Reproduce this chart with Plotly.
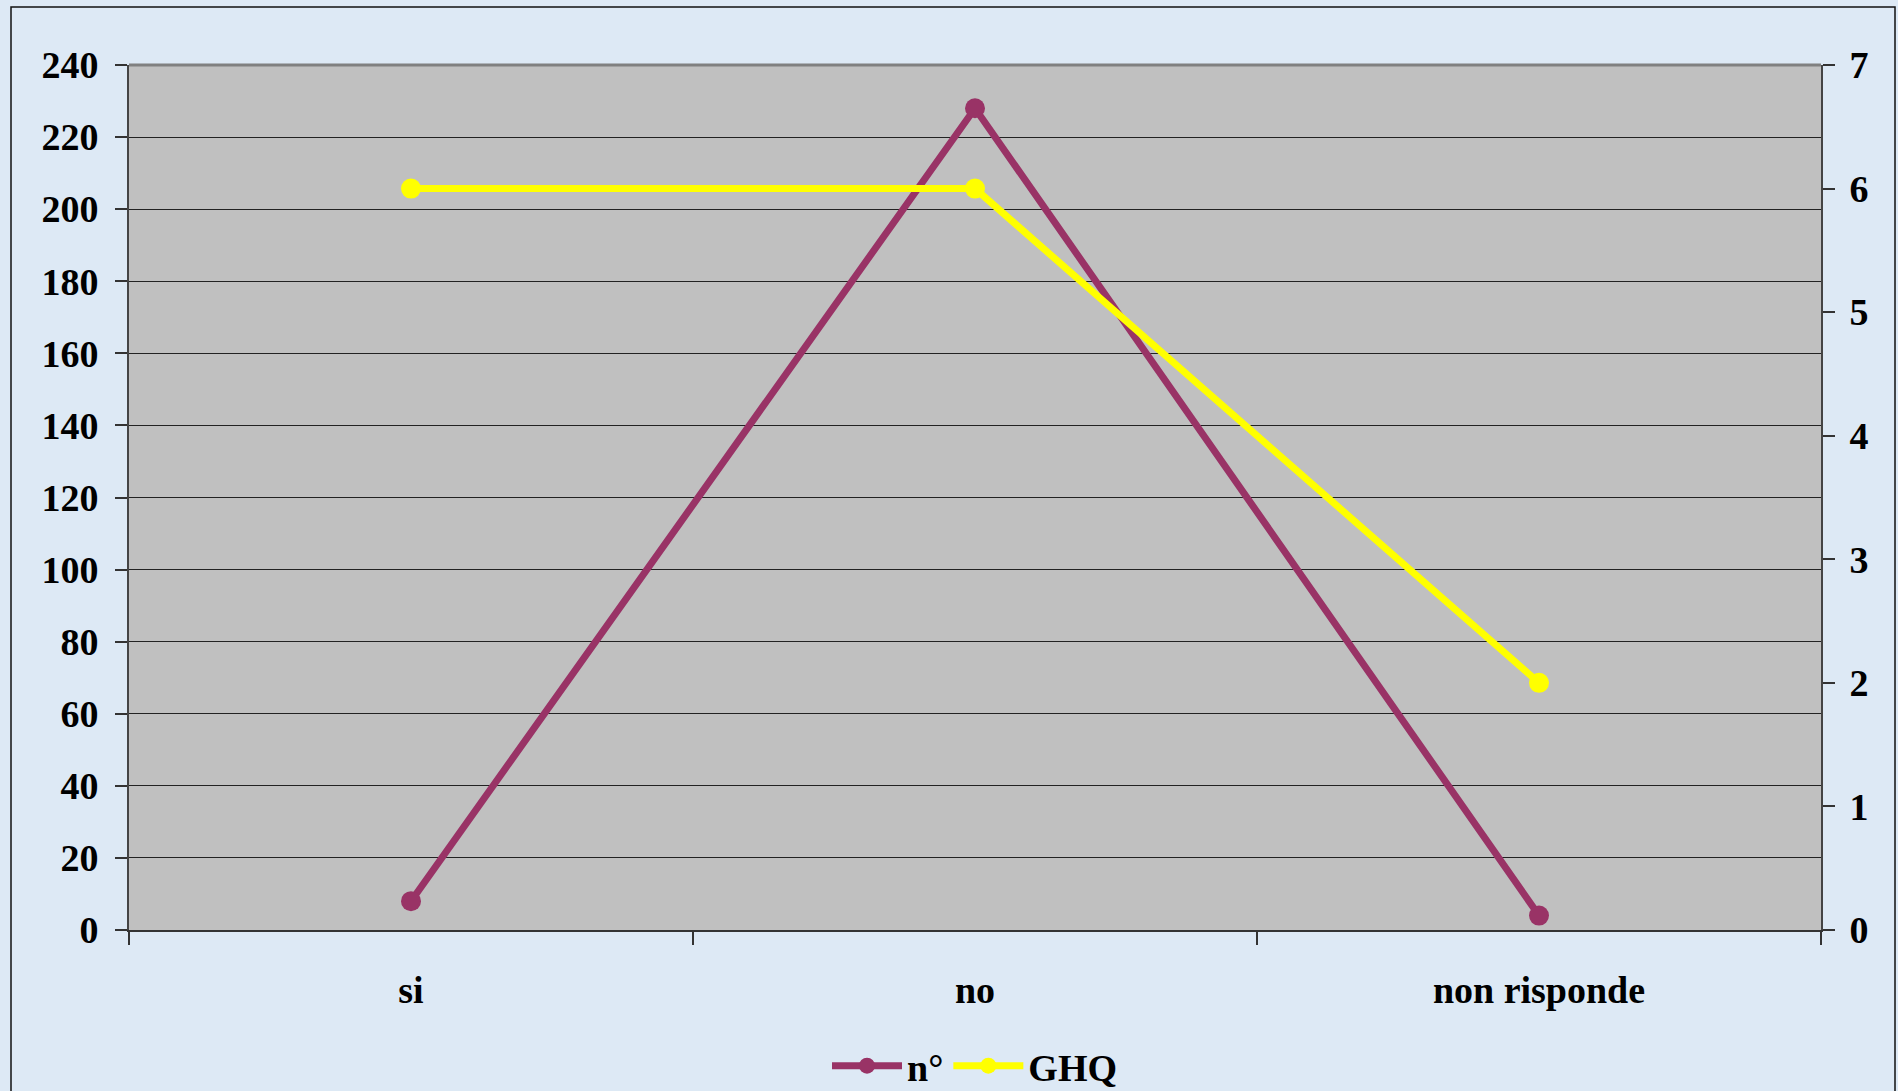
import plotly.graph_objects as go

categories = ["si", "no", "non risponde"]
n_values = [8, 228, 4]
ghq_values = [6, 6, 2]
left_ticks = list(range(0, 241, 20))
right_ticks = list(range(0, 8))

PURPLE = "#993366"
YELLOW = "#FFFF00"
FONT = dict(family="Liberation Serif, Times New Roman, serif", size=38, color="black", weight="bold")

fig = go.Figure()
fig.add_trace(go.Scatter(
    x=categories, y=n_values, name="n°", mode="lines+markers",
    line=dict(color=PURPLE, width=7), marker=dict(color=PURPLE, size=20),
))
fig.add_trace(go.Scatter(
    x=categories, y=ghq_values, name="GHQ", mode="lines+markers", yaxis="y2",
    line=dict(color=YELLOW, width=7), marker=dict(color=YELLOW, size=20),
))

W, H = 1898, 1091
L, R, T, B = 129, 77, 65, 161
pw, ph = W - L - R, H - T - B

fig.update_layout(
    width=W, height=H,
    margin=dict(l=L, r=R, t=T, b=B, autoexpand=False),
    paper_bgcolor="#dde9f5",
    plot_bgcolor="#c0c0c0",
    font=FONT,
    showlegend=True,
    legend=dict(
        orientation="h", x=0.5, xanchor="center", y=(930 - 1066) / ph, yanchor="middle",
        bgcolor="rgba(0,0,0,0)", font=FONT, itemwidth=70, traceorder="normal",
    ),
    xaxis=dict(
        type="category", range=[-0.5, 2.5], tickson="boundaries",
        ticks="outside", ticklen=13, tickwidth=1.5, tickcolor="#333",
        showline=True, linecolor="#333", linewidth=2, mirror=False,
        showgrid=False, zeroline=False, tickfont=FONT, ticklabelstandoff=25,
        automargin=False,
    ),
    yaxis=dict(
        range=[0, 240], tickvals=left_ticks, ticks="outside", ticklen=12,
        tickwidth=1.5, tickcolor="#333", showline=True, linecolor="#444", linewidth=2,
        showgrid=True, gridcolor="#222", gridwidth=1, zeroline=False,
        tickfont=FONT, ticklabelstandoff=9, automargin=False,
    ),
    yaxis2=dict(
        range=[0, 7], tickvals=right_ticks, overlaying="y", side="right",
        ticks="outside", ticklen=12, tickwidth=1.5, tickcolor="#333",
        showline=True, linecolor="#444", linewidth=2, showgrid=False, zeroline=False,
        tickfont=FONT, ticklabelstandoff=7, automargin=False,
    ),
    shapes=[
        # gray top edge of the plot area
        dict(type="line", xref="paper", yref="paper", x0=0, x1=1, y0=1, y1=1,
             line=dict(color="#808080", width=3)),
        # outer chart frame
        dict(type="rect", xref="paper", yref="paper",
             x0=(11 - L) / pw, x1=(1895 - L) / pw,
             y0=(930 - 1100) / ph, y1=(930 - 7) / ph,
             line=dict(color="#111", width=1.5), layer="below"),
    ],
)

fig.write_html("out.html")
